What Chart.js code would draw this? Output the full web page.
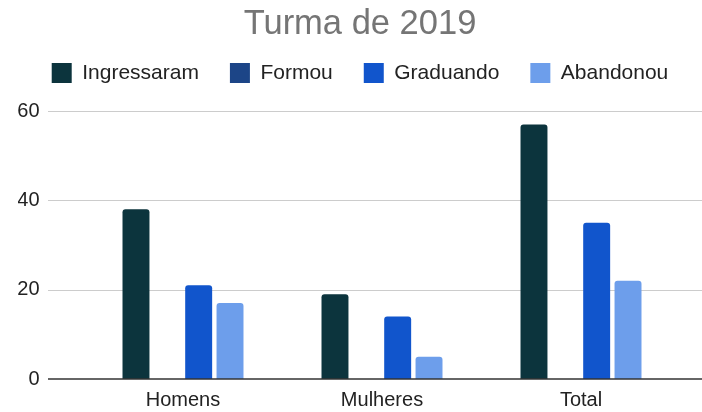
<!DOCTYPE html>
<html>
<head>
<meta charset="utf-8">
<script src="https://cdn.jsdelivr.net/npm/chart.js@4.4.1/dist/chart.umd.min.js"></script>
<style>
html,body{margin:0;padding:0;background:#fff;}
#wrap{width:702px;height:412px;position:relative;}
</style>
</head>
<body>
<div id="wrap"><canvas id="c" width="702" height="412"></canvas></div>
<script>
const categories = ["Homens", "Mulheres", "Total"];
const ingressaram = [38, 19, 57];
const formou = [0, 0, 0];
const graduando = [21, 14, 35];
const abandonou = [17, 5, 22];
const yTicks = [0, 20, 40, 60];

const FONT = "'Liberation Sans', Arial, sans-serif";

const gridPlugin = {
  id: 'fullGrid',
  beforeLayout(chart) {
    const lg = chart.legend;
    if (lg && !lg._wrappedFit) {
      const orig = lg.fit;
      lg.fit = function () { orig.call(this); this.height = 79.4; };
      lg._wrappedFit = true;
    }
  },
  beforeDatasetsDraw(chart) {
    const y = chart.scales.y, ctx = chart.ctx;
    ctx.save();
    ctx.strokeStyle = '#cccccc';
    ctx.lineWidth = 1;
    yTicks.forEach(v => {
      if (v === 0) return;
      const py = Math.round(y.getPixelForValue(v)) + 0.5;
      ctx.beginPath(); ctx.moveTo(48, py); ctx.lineTo(702, py); ctx.stroke();
    });
    ctx.restore();
  },
  afterDatasetsDraw(chart) {
    const y = chart.scales.y, ctx = chart.ctx;
    ctx.save();
    ctx.strokeStyle = '#333333';
    ctx.lineWidth = 1.5;
    const py = y.getPixelForValue(0);
    ctx.beginPath(); ctx.moveTo(48, py); ctx.lineTo(702, py); ctx.stroke();
    ctx.restore();
  }
};

new Chart(document.getElementById('c'), {
  type: 'bar',
  data: {
    labels: categories,
    datasets: [
      { label: 'Ingressaram', data: ingressaram, backgroundColor: '#0c343d' },
      { label: 'Formou', data: formou, backgroundColor: '#1c4587' },
      { label: 'Graduando', data: graduando, backgroundColor: '#1155cc' },
      { label: 'Abandonou', data: abandonou, backgroundColor: '#6d9eeb' }
    ]
  },
  options: {
    responsive: false,
    animation: false,
    layout: { padding: { left: 18, right: 0, top: 0, bottom: 0 } },
    datasets: {
      bar: { categoryPercentage: 0.63, barPercentage: 0.86, borderRadius: 3, borderSkipped: 'start' }
    },
    plugins: {
      tooltip: { enabled: false },
      title: {
        display: true,
        text: 'Turma de 2019',
        color: '#757575',
        font: { family: FONT, size: 34.5, weight: 'normal', lineHeight: 1.2 },
        padding: { top: 3.3, bottom: -13.1 }
      },
      legend: {
        display: true,
        labels: {
          boxWidth: 20, boxHeight: 20, padding: 31,
          color: '#222222',
          font: { family: FONT, size: 21 }
        }
      }
    },
    scales: {
      x: {
        afterFit(scale) { scale.height = 33; },
        grid: { display: false, drawTicks: false },
        border: { display: false },
        ticks: { color: '#222222', font: { family: FONT, size: 20 }, padding: 9 }
      },
      y: {
        min: 0, max: 60,
        afterBuildTicks(scale) { scale.ticks = yTicks.map(v => ({ value: v })); },
        afterFit(scale) { scale.width = 65.5; scale.paddingTop = 12; scale.paddingBottom = 12; },
        grid: { display: false, drawTicks: false },
        border: { display: false },
        ticks: { color: '#222222', font: { family: FONT, size: 20 }, padding: 44 }
      },
      y2: {
        position: 'right',
        display: true,
        afterFit(scale) { scale.width = 21.5; },
        grid: { display: false, drawTicks: false },
        border: { display: false },
        ticks: { display: false }
      }
    }
  },
  plugins: [gridPlugin]
});
</script>
</body>
</html>
